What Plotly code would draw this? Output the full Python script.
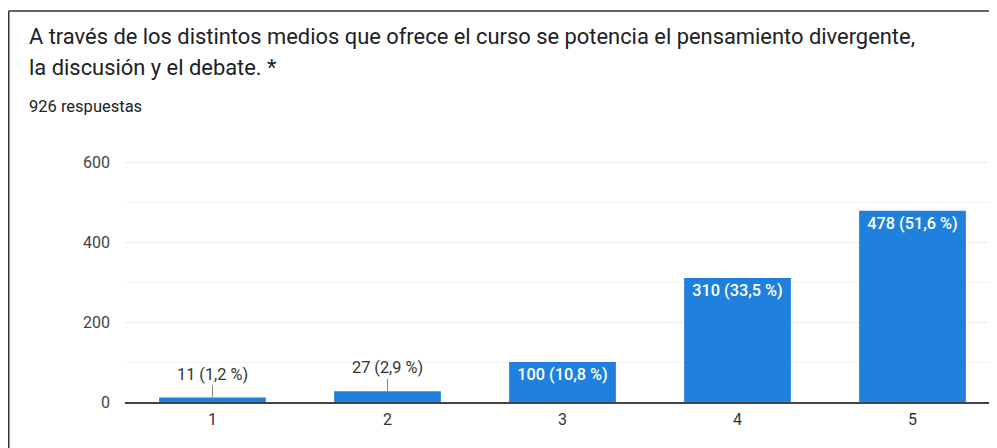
import plotly.graph_objects as go

categories = [1, 2, 3, 4, 5]
counts = [11, 27, 100, 310, 478]
percent_labels = ["1,2 %", "2,9 %", "10,8 %", "33,5 %", "51,6 %"]
y_ticks = [0, 200, 400, 600]

title_line1 = "A través de los distintos medios que ofrece el curso se potencia el pensamiento divergente,"
title_line2 = "la discusión y el debate. *"
subtitle = "926 respuestas"

# page body has an 8px margin, so the figure is drawn 8px smaller and offset
W, H = 989, 440
L, R, T, B = 117, 0, 150, 46
PW, PH = W - L - R, H - T - B
PX_PER_UNIT = 240 / 600.0

def px(x):
    return (x - L) / PW

def py(y):
    return (H - B - y) / PH

labels = [f"{c} ({p})" for c, p in zip(counts, percent_labels)]
inside = [c >= 100 for c in counts]

BLUE = "#1f80dd"
TXT = "#202124"
FONT = "Roboto, Arial"

fig = go.Figure()
fig.add_trace(go.Bar(
    x=categories, y=counts,
    marker=dict(color=BLUE, line=dict(width=0)),
    width=0.61,
    text=[lab if ins else "" for lab, ins in zip(labels, inside)],
    textposition=["inside" if ins else "none" for ins in inside],
    insidetextanchor="end",
    textangle=0,
    textfont=dict(family=FONT, size=16.3, color="white", weight=500),
    hoverinfo="skip",
))

annotations = []
for c, v, lab, ins in zip(categories, counts, labels, inside):
    if not ins:
        annotations.append(dict(
            x=c, y=v, xref="x", yref="y", text=lab,
            showarrow=True, arrowhead=0, arrowwidth=1, arrowcolor="#888",
            ax=0, ay=-23.5, standoff=0, startstandoff=0,
            font=dict(family=FONT, size=16.3, color="#333"),
        ))

annotations += [
    dict(x=px(19), y=py(28), xref="paper", yref="paper", xanchor="left", yanchor="middle",
         text=title_line1, showarrow=False,
         font=dict(family=FONT, size=21.9, color=TXT)),
    dict(x=px(19), y=py(59.5), xref="paper", yref="paper", xanchor="left", yanchor="middle",
         text=title_line2, showarrow=False,
         font=dict(family=FONT, size=21.9, color=TXT)),
    dict(x=px(19), y=py(98), xref="paper", yref="paper", xanchor="left", yanchor="middle",
         text=subtitle, showarrow=False,
         font=dict(family=FONT, size=16.5, color=TXT)),
]

shapes = [
    dict(type="line", xref="paper", yref="paper", x0=px(0.75), x1=px(0.75), y0=py(3), y1=py(460),
         line=dict(color="#333", width=1.5)),
    dict(type="line", xref="paper", yref="paper", x0=px(0.75), x1=px(1010), y0=py(3), y1=py(3),
         line=dict(color="#333", width=1.5)),
]

fig.update_layout(
    width=W, height=H,
    margin=dict(l=L, r=R, t=T, b=B, autoexpand=False),
    plot_bgcolor="white", paper_bgcolor="white",
    showlegend=False,
    annotations=annotations,
    shapes=shapes,
    xaxis=dict(
        range=[0.5, 0.5 + PW / 175.0],
        tickmode="array", tickvals=categories, ticktext=[str(c) for c in categories],
        showgrid=False, zeroline=False,
        showline=True, linecolor="#444", linewidth=1.5,
        ticks="", ticklabelstandoff=2,
        tickfont=dict(family=FONT, size=16, color="#333"),
        fixedrange=True,
    ),
    yaxis=dict(
        range=[0, PH / PX_PER_UNIT],
        tickmode="array", tickvals=y_ticks,
        showgrid=True, gridcolor="#ebebeb", gridwidth=1,
        minor=dict(dtick=100, tick0=0, showgrid=True, gridcolor="#f0f0f0", gridwidth=1),
        zeroline=False, showline=False, ticks="",
        ticklabelstandoff=14,
        tickfont=dict(family=FONT, size=16, color="#444"),
        fixedrange=True,
    ),
)

fig.write_html("out.html", config={"displayModeBar": False})
